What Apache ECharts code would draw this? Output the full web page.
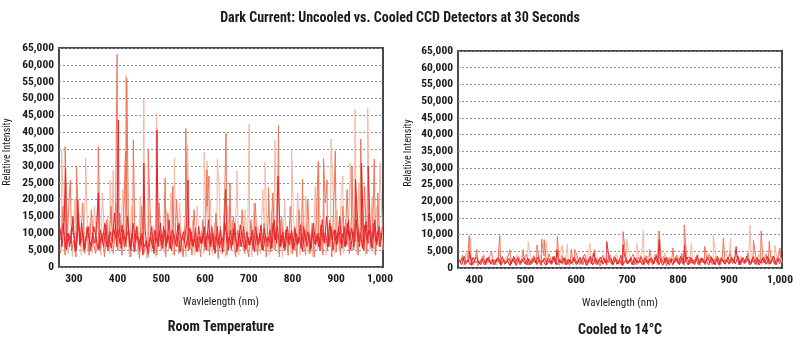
<!DOCTYPE html>
<html><head><meta charset="utf-8">
<script src="https://cdn.jsdelivr.net/npm/echarts@6/dist/echarts.min.js"></script>
<style>html,body{margin:0;padding:0;background:#fff}#c{width:800px;height:343px}</style>
</head><body><div id="c"></div>
<script>
// ---------- Left chart (Room Temperature) ----------
const leftStart = { red: 268, redB: 270.5, salmon: 270, pink: 272 };
const leftStep = 5;
const redLeft = [12000,6000,14000,5000,10000,7000,15000,4500,11000,6500,13000,5000,9000,12000,4800,10000,7000,14000,5500,9500,6000,12500,5000,10500,7500,16000,6000,
13000,5500,11000,7000,15000,6000,10000,4500,12000,6500,9000,3500,11000,5000,8000,12000,4000,9500,6000,13000,
5500,11000,7000,14000,5000,10000,6500,12500,4500,9000,7500,13000,5000,10500,6000,11500,4500,9000,7000,12000,
5000,14000,6000,10000,4000,12000,5500,9000,7000,17000,5000,11000,6500,13000,4500,10000,6000,12000,5000,9000,
6500,11000,4500,10000,7000,12500,5000,9500,6000,11000,5500,14000,7000,27000,6000,10500,5000,12000,6500,11000,
5000,10000,7000,12500,4500,11000,6000,9500,5500,13000,6500,10000,5000,14000,7000,15000,6000,12000,5000,11000,
7000,15000,5500,12000,6500,14000,5000,10500,7500,16000,6000,12000,5000,13500,7000,11000,5500,14000,6500,12000,8000];
const redLeftB = [8000,13000,5500,10000,6000,12000,9000,5000,13500,7000,10000,5500,11500,8000,6000,12000,9000,5000,11000,7500,13000,6000,9500,5500,12000,8500,11000,
7000,12500,6000,9000,11000,5000,13000,7500,9500,5000,10000,6000,7500,4000,9000,5500,11000,7000,10500,6500,
12000,6000,9500,5500,11000,8000,6000,13000,7500,10500,5500,9000,11500,6500,8500,5000,12000,7000,10000,6000,
10500,7000,12000,5500,9500,6500,11000,4500,13000,7000,9000,5500,11500,7500,6000,12500,8000,5500,10500,6500,
9000,5500,12000,6500,10000,5000,11500,7500,9000,5500,13000,8000,12000,6000,9500,5500,11000,7000,10000,5500,
11500,6500,9000,5500,12000,7500,10500,5000,11000,7000,9500,6000,12500,7500,10000,6000,13000,8000,11000,6500,
12000,7000,10000,6000,13000,8000,11500,6000,14000,7500,10000,5500,12500,8000,11000,6000,13000,7500,10500,6000,12000];
const salmonLeft = [4000,18000,3500,9000,22000,5000,8000,3000,15000,6000,19000,4000,12000,3500,17000,7000,4000,21000,5000,10000,3000,14000,6000,18000,4000,11000,5000,
16000,3500,20000,6000,9000,3000,15000,5000,12000,2500,18000,4000,8000,3000,14000,6000,10000,3500,19000,5000,
9000,3000,16000,5500,12000,3500,20000,4000,8000,3000,15000,6000,11000,3500,17000,4500,9000,3000,14000,5000,
18000,3500,10000,5000,16000,2500,12000,4000,21000,3500,9000,5000,15000,3000,11000,6000,17000,4000,8000,3000,
14000,5000,19000,3500,10000,6000,13000,3000,16000,4500,22000,5000,9000,3000,15000,6000,11000,3500,18000,4000,
12000,3000,17000,5500,9000,3500,20000,4000,13000,3000,16000,6000,10000,3500,19000,5000,14000,3000,21000,4500,
11000,3500,18000,6000,23000,4000,15000,5000,20000,3500,12000,6000,24000,4000,16000,5500,19000,3500,13000,6000,10000];
const pinkLeft = [6000,14000,25000,4000,11000,3000,20000,7000,16000,3500,9000,24000,5000,13000,4000,18000,6000,10000,3500,22000,5000,15000,4000,12000,7000,19000,4500,
9000,23000,5000,14000,3000,18000,6500,11000,4000,21000,5000,9000,2500,16000,4500,12000,3000,20000,6000,10000,
4000,17000,5000,22000,3500,12000,6000,19000,4000,9000,3000,21000,5000,14000,3500,18000,6000,11000,4000,16000,
5000,20000,3500,13000,6000,24000,4000,10000,3000,18000,5500,14000,4000,21000,3500,9000,5000,17000,4000,12000,
3000,19000,5000,12000,4000,23000,6000,10000,3500,17000,5000,25000,4000,14000,3000,20000,6000,11000,4000,16000,
5000,22000,3500,13000,6000,18000,4000,10000,3000,24000,5000,15000,4500,20000,3500,12000,6000,26000,4000,17000,
5000,23000,4000,14000,6000,28000,5000,19000,4000,25000,6000,15000,3500,27000,5000,21000,4000,18000,6000,24000,5000];
const pinkSpikesLeft = [[272,34700],[327,32300],[365,22000],[383,25800],[390,28800],[419,57000],[460,49900],[489,45600],[530,32300],[560,36200],[598,34000],[605,31500],[628,32000],[673,28500],[701,42400],[737,31000],[760,37700],[798,34700],[830,21000],[860,30800],[888,38000],[915,27000],[932,30800],[943,46800],[972,47300],[1000,31000]];
const salmonSpikesLeft = [[280,35700],[292,25800],[306,29800],[356,35700],[399,63100],[418,34200],[421,56000],[436,37700],[470,35000],[509,26400],[526,24000],[556,41100],[604,28800],[609,27000],[648,39700],[657,25000],[745,23600],[768,42100],[823,26100],[859,31300],[871,32200],[879,25800],[898,34400],[936,30000],[956,38000],[987,32000],[995,22000]];
const redSpikesLeft = [[281,29400],[309,20000],[356,22000],[402,43600],[460,30800],[490,40700],[561,25800],[647,23000],[767,27000],[944,26000],[958,30800],[973,30000]];

// ---------- Right chart (Cooled to 14°C) ----------
const rightStart = { red: 370, redB: 372.5, salmon: 372, pink: 374 };
const rightStep = 5;
const redRight = [2500,1000,3500,1500,2800,800,2200,3200,1200,2600,900,3000,1500,2400,1000,2900,1300,3400,1100,2300,700,2700,1400,3100,1000,2500,
1200,3000,900,2600,1500,3300,1000,2400,800,2900,1300,3500,1100,2200,1600,3000,900,2700,1200,3200,
1000,2500,1400,3100,800,2800,1200,4500,1000,2400,1500,3000,900,2600,1300,3400,1100,2300,800,3600,
1200,2700,1000,3200,1400,2500,900,3000,1300,2800,1000,3300,1500,2400,800,3100,1200,2600,1000,2900,
1400,3500,1100,2500,900,3200,1300,2700,1000,3000,1500,2400,900,3400,1200,2800,1000,3100,1400,2600,
1100,3300,1500,4200,1000,2800,1300,3600,900,2500,1400,3200,1000,2900,1500,3500,1100,2700,1300,3000,1200];
const redRightB = [1800,3000,1200,2400,900,3200,1600,2200,1000,2800,1400,3300,1100,2500,1700,3100,900,2400,1500,2900,1200,3500,1000,2300,1600,3000,
900,2700,1400,3200,1100,2500,1700,3000,1000,2300,1500,3400,900,2600,1300,3100,1100,2500,1600,2800,
1300,3200,1000,2600,1500,3500,900,2800,1400,3300,1100,2400,1600,3000,1000,2700,1300,3800,1100,2500,
1500,3100,900,2600,1400,3400,1100,2500,1600,3000,1200,3600,1000,2700,1400,3200,900,2800,1500,3000,
1000,2900,1500,3300,1200,2600,1000,3500,1400,2700,1100,3200,1600,2800,900,3400,1300,2600,1100,3300,
1500,2700,1200,3500,1000,3000,1600,2800,1200,3400,1000,2600,1500,3200,1100,2900,1400,3600,1000,2800,1500];
const salmonRight = [1500,3800,800,2500,4200,1200,3000,600,2200,3600,1000,2800,4000,900,2400,3300,700,2600,1800,3900,1100,2900,600,3400,1500,2700,
4100,900,2300,3700,1200,2800,600,3500,1600,4300,1000,2500,3100,800,3800,1400,2600,700,3300,1900,
3600,1000,2700,4200,800,2400,3500,1300,2900,600,3800,1500,2200,4000,900,3100,1700,2500,700,3900,
1200,2800,4100,900,3300,1600,2400,3700,800,2900,1400,4200,1000,2600,3500,700,3000,1800,2300,3800,
1100,4400,900,2700,3400,1300,2500,3900,800,3100,1600,2400,4000,1000,2800,3600,700,3200,1500,2600,
4300,1200,2900,3700,900,3300,1700,4500,1000,2600,3800,800,3100,1400,4100,1100,2800,3500,900,3000,2000];
const pinkRight = [3000,700,4500,1800,2600,900,3900,1400,2300,4200,800,3100,1600,2700,700,4400,1200,2500,3500,900,2800,1500,4000,1100,2400,3300,
800,4600,1300,2900,700,3800,1700,2500,4200,1000,3200,1500,2600,4700,900,3000,1800,2300,800,4000,
1400,2700,3700,900,4500,1600,2400,3300,700,2900,4100,1200,3500,800,2600,4300,1000,3100,1500,2800,
4400,900,3200,1700,2500,4800,800,3600,1300,2700,4000,1000,2900,1600,4600,1200,3400,700,2600,3900,
1300,2800,4700,900,3500,1600,2400,4300,1100,3000,800,4500,1400,2700,3800,1000,3300,1700,4900,1200,
3100,2200,4600,900,3700,1500,2900,4800,1100,3400,1800,4200,1000,2700,4400,1300,3600,900,3000,4700,1500];
const pinkSpikesRight = [[393,9000],[506,7900],[541,8000],[573,6900],[583,7200],[627,7400],[699,8700],[719,7400],[732,11400],[761,11100],[826,7400],[869,9900],[903,8900],[941,12900],[990,6800]];
const salmonSpikesRight = [[390,9700],[405,5600],[434,5000],[450,9700],[470,5500],[496,5600],[523,6900],[532,8700],[537,8500],[563,9400],[591,5600],[597,5600],[636,5500],[692,10900],[744,5600],[763,11100],[790,6000],[812,12900],[852,6500],[889,8900],[948,8400],[963,11100],[979,8000],[1000,6000]];
const redSpikesRight = [[390,5000],[562,5500],[660,7900],[692,7000],[763,8500],[813,6800],[914,6400]];

const xTicks = [300,400,500,600,700,800,900,1000];
const xTicksRight = [400,500,600,700,800,900,1000];

function build(x0, step, vals, spikes) {
  const pts = vals.map((v, i) => [x0 + step * i, v]);
  return pts.concat(spikes || []).sort((a, b) => a[0] - b[0]);
}

const FONT = "'Roboto Condensed','Open Sans Condensed',sans-serif";
const fmt = v => Number(v).toLocaleString('en-US');
const COLORS = { pink: '#f6b6a2', salmon: '#ee7454', red: '#e8232b' };
const INK = '#1a1a1a';

function xAxis(gi, min, max, ticks) {
  return {
    type: 'value', gridIndex: gi, min: min, max: max,
    name: 'Wavlelength (nm)', nameLocation: 'middle', nameGap: 30,
    nameTextStyle: { fontFamily: FONT, fontSize: 11, color: INK },
    axisLine: { show: false }, axisTick: { show: false }, splitLine: { show: false },
    axisLabel: { customValues: ticks, formatter: fmt, fontFamily: FONT, fontWeight: 'bold', fontSize: 11.5, color: INK, margin: 6 }
  };
}
function yAxis(gi) {
  return {
    type: 'value', gridIndex: gi, min: 0, max: 65000, interval: 5000,
    axisLine: { show: false }, axisTick: { show: false },
    splitLine: { show: true, lineStyle: { color: '#8888c4', type: [2, 2], width: 1 } },
    axisLabel: { formatter: fmt, fontFamily: FONT, fontWeight: 'bold', fontSize: 11.5, color: INK, margin: 5 }
  };
}
function line(gi, data, color) {
  return { type: 'line', xAxisIndex: gi, yAxisIndex: gi, data: data, symbol: 'none', silent: true,
    animation: false, lineStyle: { color: color, width: 1 } };
}

const chart = echarts.init(document.getElementById('c'), null, { renderer: 'canvas' });
chart.setOption({
  animation: false,
  title: { text: 'Dark Current: Uncooled vs. Cooled CCD Detectors at 30 Seconds', left: 'center', top: 6,
    textStyle: { fontFamily: FONT, fontWeight: 'bold', fontSize: 14, color: INK } },
  grid: [
    { left: 59, top: 48, width: 324, height: 219, show: true, borderColor: '#4a4a4a', borderWidth: 2, backgroundColor: 'transparent' },
    { left: 458, top: 51, width: 324, height: 217, show: true, borderColor: '#4a4a4a', borderWidth: 2, backgroundColor: 'transparent' }
  ],
  xAxis: [xAxis(0, 266, 1007, xTicks), xAxis(1, 368, 1004, xTicksRight)],
  yAxis: [yAxis(0), yAxis(1)],
  graphic: [
    { type: 'text', x: 7, y: 152, rotation: Math.PI / 2, style: { text: 'Relative Intensity', font: '10px ' + FONT, fill: INK, align: 'center', verticalAlign: 'middle' } },
    { type: 'text', x: 408, y: 153, rotation: Math.PI / 2, style: { text: 'Relative Intensity', font: '10px ' + FONT, fill: INK, align: 'center', verticalAlign: 'middle' } },
    { type: 'text', x: 221, y: 327, style: { text: 'Room Temperature', font: 'bold 14px ' + FONT, fill: INK, align: 'center', verticalAlign: 'middle' } },
    { type: 'text', x: 620, y: 330, style: { text: 'Cooled to 14°C', font: 'bold 14px ' + FONT, fill: INK, align: 'center', verticalAlign: 'middle' } }
  ],
  series: [
    line(0, build(leftStart.pink, leftStep, pinkLeft, pinkSpikesLeft), COLORS.pink),
    line(0, build(leftStart.salmon, leftStep, salmonLeft, salmonSpikesLeft), COLORS.salmon),
    line(0, build(leftStart.redB, leftStep, redLeftB), COLORS.red),
    line(0, build(leftStart.red, leftStep, redLeft, redSpikesLeft), COLORS.red),
    line(1, build(rightStart.pink, rightStep, pinkRight, pinkSpikesRight), COLORS.pink),
    line(1, build(rightStart.salmon, rightStep, salmonRight, salmonSpikesRight), COLORS.salmon),
    line(1, build(rightStart.redB, rightStep, redRightB), COLORS.red),
    line(1, build(rightStart.red, rightStep, redRight, redSpikesRight), COLORS.red)
  ]
});
</script></body></html>
